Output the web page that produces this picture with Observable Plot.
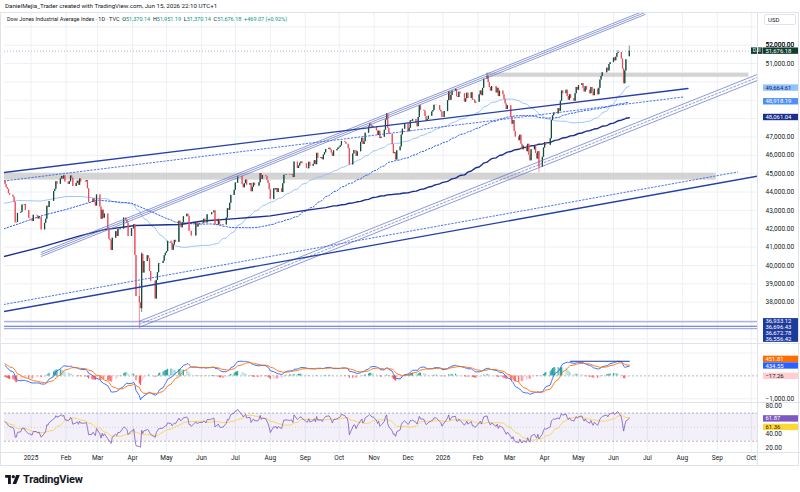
<!DOCTYPE html>
<html><head><meta charset="utf-8">
<script src="https://cdn.jsdelivr.net/npm/d3@7"></script>
<script src="https://cdn.jsdelivr.net/npm/@observablehq/plot@0.6"></script>
<style>
body{margin:0;background:#fff;}
#root{position:relative;width:800px;height:492px;overflow:hidden;font-family:Roboto,"Noto Sans",sans-serif;color:#131722;background:#fff;}
.abs{position:absolute;}
.g{color:#089981;}
</style></head><body><div id="root"></div>
<script>
// ---------------- DATA ----------------
const START_MONDAY = "2024-12-09";
const firstOpen = 44620;
// daily closes, one row per week (Mon..Fri), null = market closed
const weeklyCloses = [
 [44401,44247,44148,43914,43828],[43717,43449,42326,42342,42840],[42906,43297,null,43325,42992],
 [42573,42544,null,42392,42732],[42706,42528,42635,null,41938],[42297,42518,43221,43153,43488],
 [null,44026,44157,44565,44424],[44714,44850,44714,44882,44545],[44422,44556,44873,44748,44303],
 [44470,44593,44368,44711,44546],[null,44556,44627,44177,43428],[43461,43621,43433,43240,43841],
 [43191,42521,43006,42579,42802],[41912,41433,41351,40813,41489],[41842,41582,41965,41953,41985],
 [42583,42587,42455,42300,41584],[42002,41989,42225,40546,38315],[37966,37646,40608,39594,40213],
 [40525,40369,39669,39142,null],[38170,39187,39607,40093,40114],[40228,40528,40669,40753,41317],
 [41219,40829,41114,41369,41250],[42410,42141,42051,42323,42655],[42792,42677,41860,41859,41603],
 [null,42343,42099,42216,42270],[42306,42520,42428,42320,42763],[42762,42867,42866,42968,42198],
 [42515,42216,42172,null,42207],[42582,43089,43012,43387,43819],[44095,44495,44485,44829,null],
 [44406,44241,44458,44651,44372],[44460,44023,44255,44484,44342],[44323,44502,45010,44694,44902],
 [44838,44633,44461,44131,43589],[44174,44112,44193,43969,44176],[43975,44459,44922,44912,44946],
 [44912,44922,44938,44786,45632],[45282,45418,45565,45637,45545],[null,45296,45271,45621,45401],
 [45515,45711,45490,46108,45834],[45883,45758,46018,46142,46315],[46382,46292,46121,45947,46247],
 [46316,46398,46441,46519,46758],[46695,46603,46602,46358,45480],[46068,46270,46253,45952,46191],
 [46707,46925,46590,46735,47207],[47545,47706,47632,47522,47563],[47337,47085,47311,46912,46987],
 [47368,47927,48254,47457,47147],[46590,46091,46138,45752,46245],[46448,47112,47427,null,47716],
 [47289,47474,47882,47851,47955],[47739,47560,48057,48704,48458],[48416,48114,47885,47951,48134],
 [48362,48442,48731,null,48710],[48461,48367,48063,null,48382],[48977,49462,48996,49266,49504],
 [49590,49191,49149,49442,49359],[null,48900,49077,49384,49099],[49412,49003,49015,48850,48892],
 [49300,49500,49250,49650,50150],[50300,49950,49700,49500,49750],[null,49400,49650,49200,49500],
 [49300,49050,48800,48500,48700],[48100,47700,47900,47300,47000],[46800,47100,46600,46300,46500],
 [46200,46600,46000,45700,46300],[46500,46100,45800,46200,45350],[45900,46400,46700,46550,null],
 [46900,47900,48150,48300,48250],[48550,48400,48950,49500,49350],[49550,49200,49000,49300,49100],
 [48950,49350,49700,49550,49800],[49900,49650,49450,49750,49550],[49350,49700,49450,49250,49600],
 [49300,49650,50100,50300,50500],[null,50750,50600,50950,51050],[51300,51150,51350,51550,51600],
 [51250,50700,49900,50600,51207.11]
];
const lastBarDate = "2026-06-15";
const lastOHLC = [51370.14, 51951.19, 51370.14, 51676.18];
const lastChange = ["+469.07", "(+0.92%)"];
// notable wick extremes
const wickDates = ["2025-04-04","2025-04-07","2025-04-09","2026-02-09","2026-03-27","2026-06-05"];
const wickLows  = [38300, 36611, 37440, null, 45050, null];
const wickHighs = [40280, 38990, 40700, 50470, null, 51700];

// moving averages before enough history
const sma50EarlyDates = ["2024-12-08","2024-12-20","2025-01-10","2025-02-01","2025-02-14"];
const sma50EarlyValues = [43380,43540,43510,43760,43760];
const sma100EarlyDates = ["2024-12-08","2024-12-21","2025-01-11","2025-02-01","2025-03-01","2025-03-31","2025-04-15","2025-05-01"];
const sma100EarlyValues = [42000,42270,42720,43050,43560,43390,43000,42560];
const sma200EarlyDates = ["2024-12-08","2025-01-10","2025-02-14","2025-03-06","2025-04-03","2025-05-13","2025-06-02","2025-07-01","2025-08-01","2025-09-01","2025-09-19"];
const sma200EarlyValues = [40490,41000,41630,41940,42180,42230,42420,42550,42700,43000,43150];

// drawn trend lines [date, price]
const upperChannel = [["2025-01-10",40600],["2026-06-29",53780]];
const lowerChannel = [["2025-04-07",36800],["2026-10-07",50256]];
const resistLine   = [["2024-12-08",45065],["2026-08-06",49641]];
const resistDotted = [["2024-12-08",44602],["2026-08-02",49178]];
const supportLine  = [["2024-12-08",37493],["2026-10-07",44869]];
const supportDotted= [["2024-12-08",37875],["2026-09-19",45093]];
const hLevels = [36933.12, 36696.43, 36672.78, 36556.42];
const zoneStarts = ["2024-12-08","2026-02-09"];
const zoneEnds   = ["2026-08-31","2026-09-29"];
const zoneLows   = [44650, 50250];
const zoneHighs  = [45030, 50480];
const macdLevelLine = [["2026-04-24",640],["2026-06-15",640]];

// indicator starting states (read at left edge)
const macdStart = 450, signalStart = 520, rsiStart = 58, avgMoveStart = 180;

// axis labels
const monthTickDates = ["2025-01-01","2025-02-01","2025-03-01","2025-04-01","2025-05-01","2025-06-01","2025-07-01","2025-08-01","2025-09-01","2025-10-01","2025-11-01","2025-12-01","2026-01-01","2026-02-01","2026-03-01","2026-04-01","2026-05-01","2026-06-01","2026-07-01","2026-08-01","2026-09-01","2026-10-01"];
const monthTickLabels = ["2025","Feb","Mar","Apr","May","Jun","Jul","Aug","Sep","Oct","Nov","Dec","2026","Feb","Mar","Apr","May","Jun","Jul","Aug","Sep","Oct"];
const priceTicks = d3.range(37000, 54000, 1000);
const macdTicks = [-1000];
const rsiTicks = [80, 60, 40, 20];
const priceLabelValues = [51676.18, 49664.61, 48918.19, 48061.04, 36933.12, 36696.43, 36672.78, 36556.42];
const macdLabelValues = [451.81, 434.55, -17.26];
const rsiLabelValues = [61.87, 61.36];

// ---------------- BUILD ----------------
const parse = d3.utcParse("%Y-%m-%d");
const root = document.getElementById("root");
const UP = "#0f4c3a", DN = "#ef4a57";
const xDomain = [new Date(Date.UTC(2024,11,8,12)), new Date(Date.UTC(2026,9,6,14))];
const ticks = monthTickDates.map(parse);
const tickLabel = new Map(ticks.map((d,i)=>[+d, monthTickLabels[i]]));

const bars = [];
let prev = firstOpen;
weeklyCloses.forEach((wk,w)=>wk.forEach((c,d)=>{
  if (c == null) return;
  const date = d3.utcDay.offset(parse(START_MONDAY), w*7+d);
  bars.push({date, open: prev, close: c, high: Math.max(prev,c), low: Math.min(prev,c)});
  prev = c;
}));
bars.push({date: parse(lastBarDate), open:lastOHLC[0], high:lastOHLC[1], low:lastOHLC[2], close:lastOHLC[3]});
wickDates.forEach((ds,i)=>{
  const b = bars.find(b=>+b.date===+parse(ds));
  if (!b) return;
  if (wickLows[i]!=null) b.low = Math.min(b.low, wickLows[i]);
  if (wickHighs[i]!=null) b.high = Math.max(b.high, wickHighs[i]);
});
bars.forEach(b=>b.color = b.close>=b.open?UP:DN);
const closes = bars.map(b=>b.close);

function maSeries(k, ed, ev){
  const early = ed.map((d,i)=>({date:parse(d), value:ev[i]}));
  const late = [];
  for (let i=k-1;i<closes.length;i++) late.push({date:bars[i].date, value:d3.mean(closes.slice(i-k+1,i+1))});
  return early.filter(d=>d.date<late[0].date).concat(late);
}
const sma50 = maSeries(50, sma50EarlyDates, sma50EarlyValues);
const sma100 = maSeries(100, sma100EarlyDates, sma100EarlyValues);
const sma200 = maSeries(200, sma200EarlyDates, sma200EarlyValues);

// MACD 12/26/9
const a12=2/13, a26=2/27, a9=2/10;
let e12=closes[0], e26=closes[0]-macdStart, sig=signalStart, prevHist=null;
const macd=[];
closes.forEach((c,i)=>{
  if(i>0){ e12=a12*c+(1-a12)*e12; e26=a26*c+(1-a26)*e26; }
  const m=e12-e26;
  if(i>0) sig=a9*m+(1-a9)*sig;
  const h=m-sig;
  let col;
  if(h>=0) col = (prevHist==null||h>=prevHist)?"#26a69a":"#b2dfdb";
  else col = (prevHist==null||h<=prevHist)?"#ff5252":"#ffcdd2";
  prevHist=h;
  macd.push({date:bars[i].date, macd:m, signal:sig, hist:h, col});
});
// RSI 14 (Wilder)
let ag=avgMoveStart*rsiStart/50, al=avgMoveStart*(100-rsiStart)/50;
const rsi=[];
closes.forEach((c,i)=>{
  if(i>0){ const ch=c-closes[i-1]; ag=(ag*13+Math.max(ch,0))/14; al=(al*13+Math.max(-ch,0))/14; }
  rsi.push({date:bars[i].date, rsi:100-100/(1+ag/al)});
});
rsi.forEach((d,i)=>{ d.ma = d3.mean(rsi.slice(Math.max(0,i-13),i+1),e=>e.rsi); });

const pts = arr => arr.map(([d,v])=>({date:parse(d), value:v}));
const FONT = "Roboto, 'Noto Sans', sans-serif";

// label layout (avoid collisions like the platform does) + hide ticks under labels
function layout(ys, h, dir){
  const idx = ys.map((_,i)=>i).sort((a,b)=>ys[a]-ys[b]);
  const out = ys.slice();
  if(dir==="down"){ let p=-1e9; idx.forEach(i=>{ out[i]=Math.max(ys[i],p+h); p=out[i]; }); }
  else { let p=1e9; idx.reverse().forEach(i=>{ out[i]=Math.min(ys[i],p-h); p=out[i]; }); }
  return out;
}
function paneScale(domain, height){ return Plot.scale({y:{domain, range:[height,0]}}); }
function labelYs(scale, values, spacing, dir){ return layout(values.map(v=>scale.apply(v)), spacing, dir); }
function freeTicks(scale, tickVals, ys, gap, extra=[]){
  return tickVals.filter(t=>{ const y=scale.apply(t); return ys.concat(extra).every(l=>Math.abs(l-y)>=gap); });
}

const PRICE_DOMAIN=[35750,53781], PRICE_H=331;
const MACD_DOMAIN=[-1162,1415], MACD_H=59;
const RSI_DOMAIN=[13.9,85.3], RSI_H=50;
const sP = paneScale(PRICE_DOMAIN, PRICE_H), sM = paneScale(MACD_DOMAIN, MACD_H), sR = paneScale(RSI_DOMAIN, RSI_H);
const pys = labelYs(sP, priceLabelValues, 5.8, "down");
const mys = labelYs(sM, macdLabelValues, 6.6, "up");
const rys = labelYs(sR, rsiLabelValues, 8.5, "down");
const pTicks = freeTicks(sP, priceTicks, pys.slice(1), 6.6, [8]).concat(priceTicks.filter(t=>Math.abs(sP.apply(t)-pys[0])<6.6));
const mTicks = freeTicks(sM, macdTicks, mys, 6.6);
const rTicks = freeTicks(sR, rsiTicks, rys, 6.6);

const common = {width:800, marginLeft:4, marginRight:43, marginTop:0,
  x:{type:"utc", domain:xDomain, axis:null}, color:{type:"identity"},
  style:{fontFamily:FONT, fontSize:"6.5px", color:"#131722", background:"transparent", overflow:"visible"}};
const grid = Plot.gridX(ticks, {stroke:"#eef0f5", strokeOpacity:1});

// ---- price pane ----
const zones = zoneStarts.map((s,i)=>({x1:parse(s), x2:parse(zoneEnds[i]), y1:zoneLows[i], y2:zoneHighs[i]}));
const tl = (arr, o) => Plot.line(pts(arr), {x:"date", y:"value", clip:true, ...o});
const pricePlot = Plot.plot({...common, height:PRICE_H, marginBottom:0,
  y:{domain:PRICE_DOMAIN, axis:null},
  marks:[
    grid,
    Plot.gridY(d3.range(36000,54000,1000), {stroke:"#eef0f5", strokeOpacity:1}),
    Plot.axisY(pTicks, {anchor:"right", tickSize:0, tickPadding:8, tickFormat:d3.format(",.2f"), fontSize:6.5, fill:"#131722"}),
    Plot.rect(zones, {x1:"x1", x2:"x2", y1:"y1", y2:"y2", fill:"#cfcfcf", fillOpacity:0.9, clip:true}),
    Plot.ruleY(hLevels, {stroke:"#6f7fcf", strokeWidth:0.8}),
    Plot.ruleY([lastOHLC[3]], {stroke:"#9598a1", strokeWidth:0.7, strokeDasharray:"1,2"}),
    Plot.line(sma50, {x:"date", y:"value", stroke:"#86b6f4", strokeWidth:0.8, clip:true}),
    Plot.line(sma100, {x:"date", y:"value", stroke:"#2f5ff0", strokeWidth:1, strokeDasharray:"1.5,1.8", clip:true}),
    Plot.line(sma200, {x:"date", y:"value", stroke:"#1b2e8f", strokeWidth:1.4, clip:true}),
    Plot.ruleX(bars, {x:"date", y1:"low", y2:"high", stroke:"color", strokeWidth:0.6}),
    Plot.ruleX(bars, {x:"date", y1:"open", y2:"close", stroke:"color", strokeWidth:1.25}),
    tl(upperChannel, {stroke:"#5f6ec4", strokeWidth:0.7, dy:-2}),
    tl(upperChannel, {stroke:"#5f6ec4", strokeWidth:0.7}),
    tl(upperChannel, {stroke:"#5f6ec4", strokeWidth:0.7, dy:2}),
    tl(lowerChannel, {stroke:"#5f6ec4", strokeWidth:0.7, dy:-3}),
    tl(lowerChannel, {stroke:"#5f6ec4", strokeWidth:0.7, strokeDasharray:"2,2"}),
    tl(lowerChannel, {stroke:"#5f6ec4", strokeWidth:0.7, dy:3}),
    tl(resistLine, {stroke:"#2340a8", strokeWidth:1.3}),
    tl(supportLine, {stroke:"#2340a8", strokeWidth:1.3}),
    tl(resistDotted, {stroke:"#3b66e6", strokeWidth:0.9, strokeDasharray:"1.5,2"}),
    tl(supportDotted, {stroke:"#3b66e6", strokeWidth:0.9, strokeDasharray:"1.5,2"})
  ]});

// ---- MACD pane ----
const macdPlot = Plot.plot({...common, height:MACD_H, marginBottom:0,
  y:{domain:MACD_DOMAIN, axis:null},
  marks:[
    grid,
    Plot.gridY([-1000,1000], {stroke:"#eef0f5", strokeOpacity:1}),
    Plot.axisY(mTicks, {anchor:"right", tickSize:0, tickPadding:8, tickFormat:d3.format(",.2f"), fontSize:6.5, fill:"#131722"}),
    Plot.ruleY([0], {stroke:"#9598a1", strokeDasharray:"2,2", strokeWidth:0.7}),
    Plot.ruleX(macd, {x:"date", y1:0, y2:"hist", stroke:"col", strokeWidth:1.1}),
    Plot.line(macd, {x:"date", y:"macd", stroke:"#2962ff", strokeWidth:0.9}),
    Plot.line(macd, {x:"date", y:"signal", stroke:"#ff6d00", strokeWidth:0.9}),
    tl(macdLevelLine, {stroke:"#1f3a9e", strokeWidth:1.2})
  ]});

// ---- RSI pane ----
const rsiPlot = Plot.plot({...common, height:RSI_H+14, marginBottom:14,
  y:{domain:RSI_DOMAIN, axis:null},
  marks:[
    grid,
    Plot.rect([[30,70]], {x1:xDomain[0], x2:xDomain[1], y1:d=>d[0], y2:d=>d[1], fill:"#7e57c2", fillOpacity:0.09}),
    Plot.ruleY([70,30], {stroke:"#9598a1", strokeDasharray:"2,2", strokeWidth:0.7}),
    Plot.ruleY([50], {stroke:"#9598a1", strokeDasharray:"1,2", strokeWidth:0.6, strokeOpacity:0.6}),
    Plot.axisY(rTicks, {anchor:"right", tickSize:0, tickPadding:8, tickFormat:d3.format(".2f"), fontSize:6.5, fill:"#131722"}),
    Plot.line(rsi, {x:"date", y:"ma", stroke:"#f7d54a", strokeWidth:0.9}),
    Plot.line(rsi, {x:"date", y:"rsi", stroke:"#7e57c2", strokeWidth:0.8}),
    Plot.axisX(ticks, {anchor:"bottom", tickSize:0, tickPadding:3, tickFormat:d=>tickLabel.get(+d), fontSize:6.5, fill:"#131722"})
  ]});

function place(el, top){ el.style.position="absolute"; el.style.left="0px"; el.style.top=top+"px"; root.appendChild(el); }
place(pricePlot, 12); place(macdPlot, 343); place(rsiPlot, 402);

// ---- value labels on the right axis ----
function addLabels(plot, values, ys, styles, fmt){
  const g = d3.select(plot).append("g").attr("font-family",FONT).attr("font-size",5.9).attr("text-anchor","start");
  values.forEach((v,i)=>{
    const [bg, fg] = styles[i];
    g.append("rect").attr("x",763).attr("y",ys[i]-3.2).attr("width",35).attr("height",6.4).attr("fill",bg);
    g.append("text").attr("x",765.5).attr("y",ys[i]).attr("dy","0.35em").attr("text-anchor","start").attr("fill",fg).text(fmt(v));
  });
}
const f2 = d3.format(",.2f");
addLabels(pricePlot, priceLabelValues, pys,
  [["#0f3d31","#fff"],["#90c2fb","#0d2a6e"],["#4f8ff7","#fff"],["#1a2e8c","#fff"],["#1c3a9c","#fff"],["#1c3a9c","#fff"],["#1c3a9c","#fff"],["#1c3a9c","#fff"]], f2);
{ // DJI tag
  const g = d3.select(pricePlot).append("g").attr("font-family",FONT).attr("font-size",5.3);
  g.append("rect").attr("x",751).attr("y",pys[0]-3.2).attr("width",11.5).attr("height",6.4).attr("fill","#0f3d31");
  g.append("text").attr("x",756.7).attr("y",pys[0]).attr("dy","0.35em").attr("text-anchor","middle").attr("fill","#fff").text("DJI");
}
addLabels(macdPlot, macdLabelValues, mys, [["#ff6d00","#fff"],["#2962ff","#fff"],["#ffcdd2","#131722"]], f2);
addLabels(rsiPlot, rsiLabelValues, rys, [["#7e57c2","#fff"],["#fdd835","#131722"]], d3.format(".2f"));

// ---- frame, header, logo ----
function div(css, html){ const d=document.createElement("div"); d.className="abs"; d.style.cssText=css; if(html) d.innerHTML=html; root.appendChild(d); return d; }
div("left:0;top:12px;width:799px;height:454px;border:1px solid #e0e3eb;box-sizing:border-box;");
div("left:757px;top:12px;width:1px;height:454px;background:#e0e3eb;");
div("left:0;top:343px;width:800px;height:1px;background:#e0e3eb;");
div("left:0;top:402px;width:800px;height:1px;background:#e0e3eb;");
div("left:0;top:452px;width:800px;height:1px;background:#e0e3eb;");
div("left:764px;top:14px;width:32px;height:11px;background:#fff;border:1px solid #e0e3eb;border-radius:2px;box-sizing:border-box;font-size:6px;line-height:9px;padding-left:3px;", "USD");
div("left:5px;top:2px;font-size:6.2px;white-space:nowrap;", "DanielMejia_Trader created with TradingView.com, Jun 15, 2026 22:10 UTC+1");
const ohlcNames = ["O","H","L","C"];
div("left:7px;top:16px;font-size:5.5px;white-space:nowrap;",
  "Dow Jones Industrial Average Index · 1D · TVC&nbsp; " +
  lastOHLC.map((v,i)=>`${ohlcNames[i]}<span class="g">${f2(v)}</span>`).join("&nbsp; ") +
  `&nbsp; <span class="g">${lastChange[0]} ${lastChange[1]}</span>`);
div("left:5px;top:472px;height:14px;display:flex;align-items:center;gap:3px;font-weight:700;font-size:11px;letter-spacing:-0.2px;",
  `<svg width="15" height="9" viewBox="0 0 36 22"><path d="M0 0h14v22H7V7H0z" fill="#131722"/><circle cx="20" cy="4" r="4" fill="#131722"/><path d="M27 0h9l-9 22h-9z" fill="#131722"/></svg><span>TradingView</span>`);
</script></body></html>
